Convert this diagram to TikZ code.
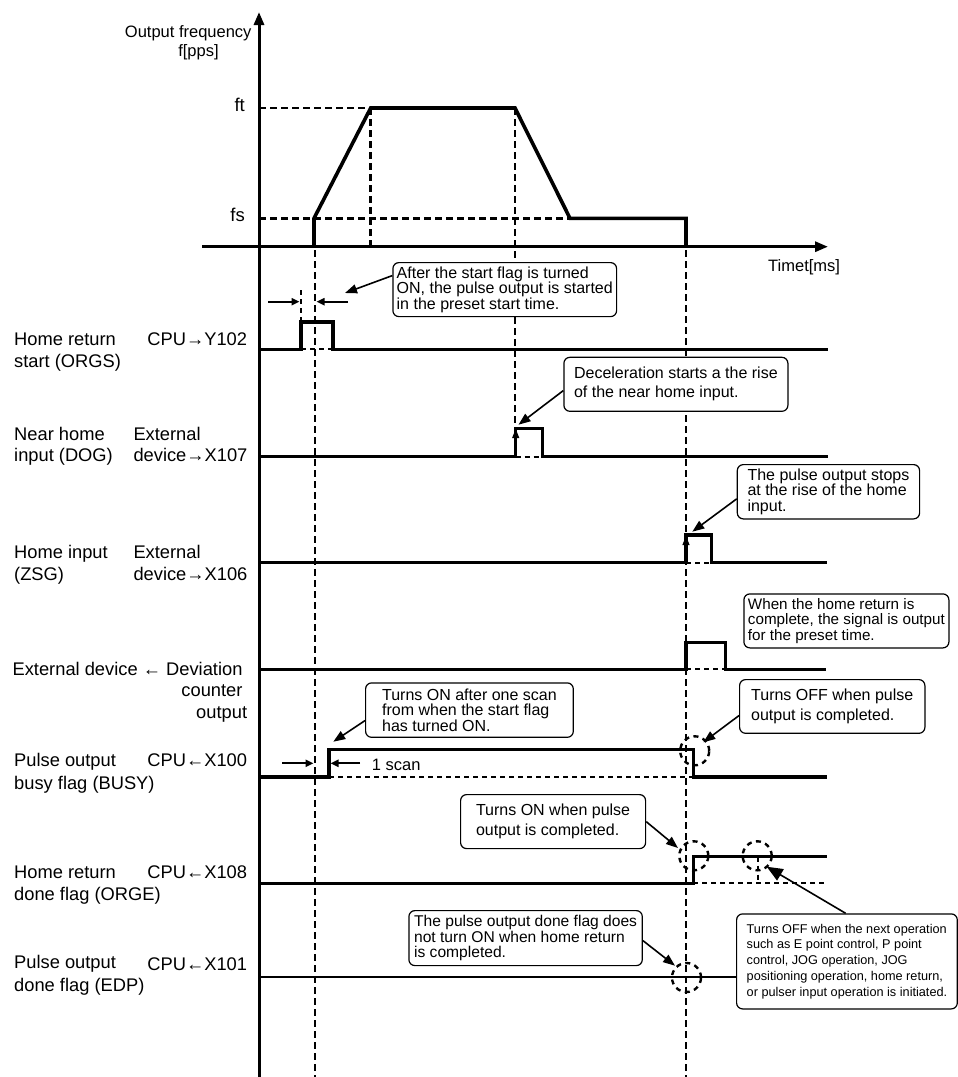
\documentclass[tikz,border=0pt]{standalone}
\usepackage{fontspec}
\setmainfont{Liberation Sans}
\usetikzlibrary{arrows.meta}
\begin{document}
\begin{tikzpicture}[x=1pt,y=-1pt,
  sig/.style={line width=3.5pt, line join=miter},
  axisline/.style={line width=3pt},
  dsh/.style={line width=2.8pt, dash pattern=on 6.5pt off 4.5pt},
  shortdsh/.style={line width=2.2pt, dash pattern=on 5pt off 4pt},
  circ/.style={line width=2.4pt, dash pattern=on 5pt off 4.5pt},
  lbl/.style={inner sep=0pt, font=\fontsize{18.3}{20}\selectfont},
  axlbl/.style={inner sep=0pt, font=\fontsize{16.5}{20}\selectfont},
  flbl/.style={inner sep=0pt, font=\fontsize{18.5}{20}\selectfont},
  callout/.style={draw, line width=1.2pt, rounded corners=6pt, align=left, inner sep=0pt, anchor=north west, fill=white},
  pointer/.style={line width=1.6pt, -{Triangle[length=12pt,width=9pt]}},
  dimarrow/.style={line width=2pt, -{Triangle[length=8pt,width=7pt]}},
  edgetip/.style={line width=1pt, -{Triangle[length=9pt,width=7pt]}},
  bigtip/.style={-{Triangle[length=13pt,width=10pt]}},
]
\useasboundingbox (0,0) rectangle (958,1077);

% ---------- axes ----------
\coordinate (vbot) at (259,1077);
\coordinate (vtop) at (259,12);
\coordinate (hl) at (202,246.7);
\coordinate (hr) at (828,246.7);
\draw[axisline,bigtip] (vbot) -- (vtop);
\draw[axisline,bigtip] (hl) -- (hr);

\node[axlbl, anchor=base east] (ylab1) at (251.7,37.3) {Output frequency};
\node[axlbl, anchor=base] (ylab2) at (198.5,56.7) {f[pps]};
\node[flbl, anchor=base east] (ftl) at (245,111.7) {ft};
\node[flbl, anchor=base east] (fsl) at (245,221.7) {fs};
\node[axlbl, anchor=base west] (tlab) at (768,271.7) {Timet[ms]};

% ---------- dashed guides ----------
\draw[dsh] (259,108) -- (370.7,108);
\draw[dsh] (259,218.3) -- (570,218.3);
\draw[dsh] (370.7,108) -- (370.7,246.7);
\draw[dsh] (515,108) -- (515,428);
\draw[dsh] (315,250) -- (315,1077);
\draw[dsh] (686,250) -- (686,1077);

% ---------- frequency profile ----------
\draw[sig, line width=3.6pt] (314,246.7) -- (314,218.3) -- (370.7,108) -- (515,108) -- (570,218.3) -- (686,218.3) -- (686,246.7);

% ---------- ORGS ----------
\draw[sig] (259,349.3) -- (301,349.3) -- (301,322) -- (333,322) -- (333,349.3) -- (828,349.3);
\draw[shortdsh] (301,349.3) -- (333,349.3);
\draw[shortdsh] (301,290) -- (301,322);
\draw[dimarrow] (268,301.7) -- (299.5,301.7);
\draw[dimarrow] (348,301.7) -- (316.5,301.7);

% ---------- DOG ----------
\draw[sig] (259,456.7) -- (515.7,456.7) -- (515.7,428.3) -- (542.3,428.3) -- (542.3,456.7) -- (828,456.7);
\draw[shortdsh] (515.7,456.7) -- (542.3,456.7);
\draw[edgetip] (515.7,446) -- (515.7,429);

% ---------- ZSG ----------
\draw[sig] (259,562.7) -- (686,562.7) -- (686,535) -- (711.7,535) -- (711.7,562.7) -- (827,562.7);
\draw[shortdsh] (686,562.7) -- (711.7,562.7);
\draw[edgetip] (686,552) -- (686,536);

% ---------- Deviation counter ----------
\draw[sig] (259,669.3) -- (686,669.3) -- (686,642.7) -- (725.7,642.7) -- (725.7,669.3) -- (826,669.3);
\draw[shortdsh] (686,669.3) -- (725.7,669.3);

% ---------- BUSY ----------
\draw[sig] (259,777) -- (329,777) -- (329,749.3) -- (693.3,749.3) -- (693.3,777) -- (827,777);
\draw[shortdsh] (329,777) -- (693.3,777);
\draw[dimarrow] (282,763.3) -- (313.5,763.3);
\draw[dimarrow] (360,763.3) -- (330.5,763.3);
\node[axlbl, anchor=base west] (scan) at (371.7,770.7) {1 scan};
\draw[circ] (694.7,750.8) circle[radius=14.5pt];

% ---------- ORGE ----------
\draw[sig] (259,883.3) -- (693.3,883.3) -- (693.3,856.7) -- (827,856.7);
\draw[shortdsh] (693.3,883.3) -- (827,883.3);
\draw[shortdsh] (757.7,856.7) -- (757.7,883.3);
\draw[circ] (693.8,855.8) circle[radius=14.5pt];
\draw[circ] (757.2,855.8) circle[radius=14.5pt];

% ---------- EDP ----------
\draw[line width=2.3pt] (259,976.7) -- (736,976.7);
\draw[circ] (686.5,977.5) circle[radius=14.5pt];

% ---------- left labels ----------
\node[lbl, anchor=base west] (l1a) at (14,345.7) {Home return};
\node[lbl, anchor=base west] (l1b) at (14,367.7) {start (ORGS)};
\node[lbl, anchor=base east] (l1c) at (247.3,345.7) {CPU→Y102};

\node[lbl, anchor=base west] (l2a) at (14,440) {Near home};
\node[lbl, anchor=base west] (l2b) at (14,461.7) {input (DOG)};
\node[lbl, anchor=base west] (l2c) at (133.3,440) {External};
\node[lbl, anchor=base west] (l2d) at (133.3,461.7) {device→X107};

\node[lbl, anchor=base west] (l3a) at (14,558.3) {Home input};
\node[lbl, anchor=base west] (l3b) at (14,580.5) {(ZSG)};
\node[lbl, anchor=base west] (l3c) at (133.3,558.3) {External};
\node[lbl, anchor=base west] (l3d) at (133.3,580.5) {device→X106};

\node[lbl, anchor=base east] (l4a) at (242.7,675) {External device ← Deviation};
\node[lbl, anchor=base east] (l4b) at (242.7,696.7) {counter};
\node[lbl, anchor=base east] (l4c) at (247.3,718.3) {output};

\node[lbl, anchor=base west] (l5a) at (14,766.7) {Pulse output};
\node[lbl, anchor=base west] (l5b) at (14,789.5) {busy flag (BUSY)};
\node[lbl, anchor=base east] (l5c) at (247.3,766.7) {CPU←X100};

\node[lbl, anchor=base west] (l6a) at (14,878.3) {Home return};
\node[lbl, anchor=base west] (l6b) at (14,900.8) {done flag (ORGE)};
\node[lbl, anchor=base east] (l6c) at (247.3,878.3) {CPU←X108};

\node[lbl, anchor=base west] (l7a) at (14,968.5) {Pulse output};
\node[lbl, anchor=base west] (l7b) at (14,991.5) {done flag (EDP)};
\node[lbl, anchor=base east] (l7c) at (247.3,970) {CPU←X101};

% ---------- callouts ----------
\node[callout, minimum width=223.7pt, minimum height=54pt, font=\fontsize{16}{15.7}\selectfont] (c1) at (392.3,262)
  {After the start flag is turned\\ON, the pulse output is started\\in the preset start time.};
\node[callout, minimum width=224pt, minimum height=54pt, font=\fontsize{16}{19}\selectfont] (c2) at (563.3,356.7)
  {Deceleration starts a the rise\\of the near home input.};
\node[callout, minimum width=182.3pt, minimum height=54.3pt, font=\fontsize{16}{15.8}\selectfont] (c3) at (736.7,464)
  {The pulse output stops\\at the rise of the home\\input.};
\node[callout, minimum width=205pt, minimum height=54pt, font=\fontsize{15.2}{15.8}\selectfont] (c4) at (743.3,593.3)
  {When the home return is\\complete, the signal is output\\for the preset time.};
\node[callout, minimum width=207.7pt, minimum height=54.4pt, font=\fontsize{16}{15.8}\selectfont] (c5) at (365,682.3)
  {Turns ON after one scan\\from when the start flag\\has turned ON.};
\node[callout, minimum width=185.3pt, minimum height=53.7pt, font=\fontsize{16}{20}\selectfont] (c6) at (739,679)
  {Turns OFF when pulse\\output is completed.};
\node[callout, minimum width=185pt, minimum height=54pt, font=\fontsize{16}{20}\selectfont] (c7) at (460,794)
  {Turns ON when pulse\\output is completed.};
\node[callout, minimum width=220.7pt, minimum height=95pt, font=\fontsize{12.7}{15.7}\selectfont] (c8) at (736,913.3)
  {Turns OFF when the next operation\\such as E point control, P point\\control, JOG operation, JOG\\positioning operation, home return,\\or pulser input operation is initiated.};
\node[callout, minimum width=233.4pt, minimum height=55pt, font=\fontsize{15.6}{15.5}\selectfont] (c9) at (408.3,910)
  {The pulse output done flag does\\not turn ON when home return\\is completed.};

% ---------- pointers ----------
\coordinate (t1) at (345,293);
\coordinate (t2) at (518.5,424.7);
\coordinate (t3) at (692.3,531.7);
\coordinate (t5) at (333.3,741.7);
\coordinate (t6) at (703.3,742.3);
\coordinate (t7) at (678,848);
\coordinate (t8) at (766.7,866.7);
\coordinate (t9) at (675,965.7);
\draw[pointer] ([yshift=14pt]c1.west) -- (t1);
\draw[pointer] ([yshift=-6.3pt]c2.west) -- (t2);
\draw[pointer] ([yshift=-7.1pt]c3.west) -- (t3);
\draw[pointer] ([yshift=-10.5pt]c5.west) -- (t5);
\draw[pointer] ([yshift=-9.1pt]c6.west) -- (t6);
\draw[pointer] (c7.east) -- (t7);
\draw[line width=1.6pt, -{Triangle[length=16pt,width=13pt]}] ([xshift=-1.3pt]c8.north) -- (t8);
\draw[pointer] ([yshift=-2.5pt]c9.east) -- (t9);
\end{tikzpicture}
\end{document}
